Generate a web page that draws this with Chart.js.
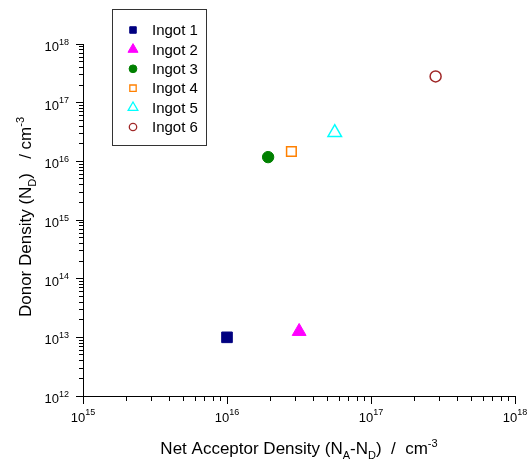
<!DOCTYPE html>
<html>
<head>
<meta charset="utf-8">
<script src="https://cdn.jsdelivr.net/npm/chart.js@4/dist/chart.umd.min.js"></script>
<style>
  body { margin: 0; background: #fff; }
  #wrap { width: 532px; height: 463px; }
</style>
</head>
<body>
<div id="wrap"><canvas id="myChart" width="532" height="463"></canvas></div>
<script>
// values
const ingotNames = ['Ingot 1', 'Ingot 2', 'Ingot 3', 'Ingot 4', 'Ingot 5', 'Ingot 6']
const netAcceptor = [1.0e16, 3.17e16, 1.93e16, 2.8e16, 5.6e16, 2.81e17]   // N_A - N_D
const donorDensity = [1.0e13, 1.26e13, 1.18e16, 1.47e16, 3.1e16, 2.8e17]  // N_D
const xDecades = [15, 16, 17, 18]
const yDecades = [12, 13, 14, 15, 16, 17, 18]

const markerStyle = ['rect', 'triangle', 'circle', 'rect', 'triangle', 'circle']
const markerColor = ['#000080', '#ff00ff', '#008000', '#ff8000', '#00ffff', '#a02828']
const markerFilled = [true, true, true, false, false, false]
const markerSize = [7.5, 8, 5.7, 6.8, 7.8, 5.5]
const legendSize = [4.6, 5.8, 3.9, 4.5, 5.6, 3.7]

const FONT = '"Liberation Sans", Arial, sans-serif'
const TICK_COLOR = '#000'

const datasets = []
for (let i = 0; i < ingotNames.length; i++) {
    datasets.push({
        label: ingotNames[i],
        data: [{x: netAcceptor[i], y: donorDensity[i]}],
        pointStyle: markerStyle[i],
        pointRadius: markerSize[i],
        pointHoverRadius: markerSize[i],
        borderColor: markerColor[i],
        backgroundColor: markerFilled[i] ? markerColor[i] : 'rgba(0,0,0,0)',
        borderWidth: markerFilled[i] ? 1 : 1.5
    })
}

// text with sub/superscript pieces: [text, '' | 'sub' | 'sup']
function partWidth(c, parts, size) {
    let w = 0
    for (const p of parts) {
        c.font = (p[1] ? Math.round(size * 0.65) : size) + 'px ' + FONT
        w += c.measureText(p[0]).width
    }
    return w
}
function richText(c, parts, x, y, size) {
    let cx = x - partWidth(c, parts, size) / 2
    c.textAlign = 'left'
    c.textBaseline = 'alphabetic'
    for (const p of parts) {
        let dy = 0
        if (p[1] === 'sub') dy = size * 0.28
        if (p[1] === 'sup') dy = -size * 0.42
        c.font = (p[1] ? Math.round(size * 0.65) : size) + 'px ' + FONT
        c.fillText(p[0], cx, y + dy)
        cx += c.measureText(p[0]).width
    }
}

function powerLabel(c, exp, x, y, align) {
    c.textBaseline = 'alphabetic'
    c.textAlign = 'left'
    c.font = '13px ' + FONT
    const w1 = c.measureText('10').width
    c.font = '9px ' + FONT
    const w2 = c.measureText(String(exp)).width
    const sx = align === 'right' ? x - w1 - w2 : x - (w1 + w2) / 2
    c.font = '13px ' + FONT
    c.fillText('10', sx, y)
    c.font = '9px ' + FONT
    c.fillText(String(exp), sx + w1, y - 6.5)
}

// outward log ticks, long at each decade
const tickMarks = {
    id: 'tickMarks',
    afterDatasetsDraw(chart) {
        const c = chart.ctx
        const xs = chart.scales.x, ys = chart.scales.y
        const left = Math.floor(chart.chartArea.left), bottom = Math.floor(chart.chartArea.bottom)
        c.save()
        c.fillStyle = TICK_COLOR
        for (let i = 0; i < xDecades.length; i++) {
            for (let m = 1; m <= 9; m++) {
                if (i === xDecades.length - 1 && m > 1) break
                const px = Math.floor(xs.getPixelForValue(m * Math.pow(10, xDecades[i])))
                c.fillRect(px, bottom, 1, m === 1 ? 8 : 5)
            }
        }
        for (let i = 0; i < yDecades.length; i++) {
            for (let m = 1; m <= 9; m++) {
                if (i === yDecades.length - 1 && m > 1) break
                const py = Math.floor(ys.getPixelForValue(m * Math.pow(10, yDecades[i])))
                const len = m === 1 ? 7 : 4
                c.fillRect(left - len, py, len + 1, 1)
            }
        }
        c.restore()
    }
}

const axisDecor = {
    id: 'axisDecor',
    afterDraw(chart) {
        const c = chart.ctx
        const xs = chart.scales.x, ys = chart.scales.y
        const area = chart.chartArea
        c.save()
        c.fillStyle = '#000'
        for (const e of xDecades) {
            powerLabel(c, e, xs.getPixelForValue(Math.pow(10, e)), area.bottom + 25.5, 'center')
        }
        for (const e of yDecades) {
            powerLabel(c, e, area.left - 14, ys.getPixelForValue(Math.pow(10, e)) + 7, 'right')
        }

        // axis titles
        richText(c, [['Net Acceptor Density (N', ''], ['A', 'sub'], ['-N', ''], ['D', 'sub'],
            [')  /  cm', ''], ['-3', 'sup']], (area.left + area.right) / 2, 454, 17)
        c.save()
        c.translate(31, (area.top + area.bottom) / 2 - 3)
        c.rotate(-Math.PI / 2)
        richText(c, [['Donor Density (N', ''], ['D', 'sub'], [')   / cm', ''], ['-3', 'sup']], 0, 0, 17)
        c.restore()

        // legend box
        c.strokeStyle = '#333'
        c.lineWidth = 1
        c.strokeRect(112.5, 9.5, 94, 136)
        for (let i = 0; i < ingotNames.length; i++) {
            const ly = 30 + i * 19.4
            c.save()
            c.fillStyle = markerFilled[i] ? markerColor[i] : 'rgba(0,0,0,0)'
            c.strokeStyle = markerColor[i]
            c.lineWidth = markerFilled[i] ? 1 : 1.3
            Chart.helpers.drawPoint(c, {pointStyle: markerStyle[i], radius: legendSize[i], rotation: 0,
                borderWidth: c.lineWidth}, 133, ly)
            c.restore()
            c.fillStyle = '#000'
            c.font = '15px ' + FONT
            c.textAlign = 'left'
            c.textBaseline = 'middle'
            c.fillText(ingotNames[i], 152, ly + 1)
        }
        c.restore()
    }
}

const canvasEl = document.getElementById('myChart')
const myChart = new Chart(canvasEl, {
    type: 'scatter',
    data: {datasets: datasets},
    options: {
        responsive: false,
        animation: false,
        devicePixelRatio: 1,
        layout: {padding: {top: 44, right: 17, left: 0, bottom: 0}},
        plugins: {legend: {display: false}, tooltip: {enabled: false}},
        scales: {
            x: {
                type: 'logarithmic', min: 1e15, max: 1e18,
                ticks: {display: false},
                grid: {display: false},
                border: {display: true, color: '#000', width: 1},
                afterFit(scale) { scale.height = 67 }
            },
            y: {
                type: 'logarithmic', min: 1e12, max: 1e18,
                ticks: {display: false},
                grid: {display: false},
                border: {display: true, color: '#000', width: 1},
                afterFit(scale) { scale.width = 83 }
            }
        }
    },
    plugins: [tickMarks, axisDecor]
})
</script>
</body>
</html>
